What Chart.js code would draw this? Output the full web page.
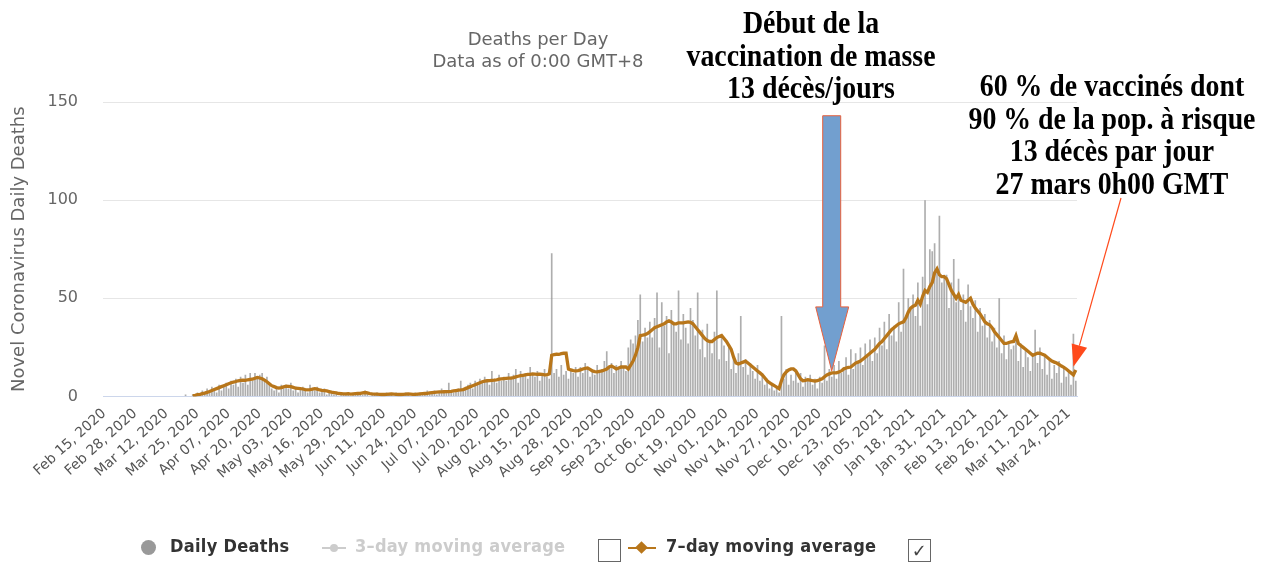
<!DOCTYPE html>
<html lang="fr">
<head>
  <meta charset="UTF-8">
  <title>Deaths per Day</title>
  <script src="https://cdn.jsdelivr.net/npm/chart.js"></script>
  <style>
    html, body { margin: 0; padding: 0; background: #fff; overflow: hidden; }
    .wrap { position: relative; width: 1275px; height: 563px; }
    .titre { position: absolute; left: 338px; width: 400px; text-align: center;
             font: 18px "DejaVu Sans", sans-serif; color: #666; line-height: 22px; top: 28px; }
    .note { position: absolute; width: 420px; text-align: center; color: #000;
            font: bold 32px "Liberation Serif", serif; line-height: 32.6px;
            transform: scaleX(0.87); white-space: nowrap; }
    .legende { position: absolute; top: 535px; left: 0; width: 1275px; height: 26px;
               font-family: "DejaVu Sans Condensed", "DejaVu Sans", sans-serif; font-stretch: condensed;
               font-weight: bold; font-size: 18px; letter-spacing: 0.3px; }
    .legende span, .legende i { position: absolute; }
    .case { position: absolute; width: 21px; height: 21px; border: 1px solid #666; top: 4px; }
  </style>
</head>
<body>
<div class="wrap">
  <canvas id="graficoMortes"></canvas>

  <div class="titre">Deaths per Day<br>Data as of 0:00 GMT+8</div>

  <div class="note" style="left:601px; top:6px;">Début de la<br>vaccination de masse<br>13 décès/jours</div>
  <div class="note" style="left:902px; top:69px;">60 % de vaccinés dont<br>90 % de la pop. à risque<br>13 décès par jour<br>27 mars 0h00 GMT</div>

  <div class="legende">
    <i style="left:141px; top:5px; width:15px; height:15px; border-radius:50%; background:#999;"></i>
    <span style="left:170px; top:0px; color:#333;">Daily Deaths</span>
    <i style="left:322px; top:12px; width:24px; height:2px; background:#ccc;"></i>
    <i style="left:330px; top:9px; width:8px; height:8px; border-radius:50%; background:#ccc;"></i>
    <span style="left:355px; top:0px; color:#ccc;">3–day moving average</span>
    <div class="case" style="left:598px;"></div>
    <i style="left:628px; top:12px; width:28px; height:2px; background:#b8761a;"></i>
    <i style="left:637px; top:8px; width:9px; height:9px; background:#b8761a; transform:rotate(45deg);"></i>
    <span style="left:666px; top:0px; color:#333;">7–day moving average</span>
    <div class="case" style="left:908px; color:#444; font:18px 'DejaVu Sans'; line-height:21px; text-align:center;">✓</div>
  </div>
</div>

<script>
  // étiquettes de l'axe x (une tous les 13 jours à partir du 15 fév. 2020)
  const tickLabels = ['Feb 15, 2020', 'Feb 28, 2020', 'Mar 12, 2020', 'Mar 25, 2020', 'Apr 07, 2020',
    'Apr 20, 2020', 'May 03, 2020', 'May 16, 2020', 'May 29, 2020', 'Jun 11, 2020', 'Jun 24, 2020',
    'Jul 07, 2020', 'Jul 20, 2020', 'Aug 02, 2020', 'Aug 15, 2020', 'Aug 28, 2020', 'Sep 10, 2020',
    'Sep 23, 2020', 'Oct 06, 2020', 'Oct 19, 2020', 'Nov 01, 2020', 'Nov 14, 2020', 'Nov 27, 2020',
    'Dec 10, 2020', 'Dec 23, 2020', 'Jan 05, 2021', 'Jan 18, 2021', 'Jan 31, 2021', 'Feb 13, 2021',
    'Feb 26, 2021', 'Mar 11, 2021', 'Mar 24, 2021'];

  // décès par jour, 15 fév. 2020 -> 27 mars 2021
  const dailyDeaths = [
    0,0,0,0,0,0,0,0,0,0,0,0,0,0,0,
    0,0,0,0,0,0,0,0,0,0,0,0,0,0,0,0,0,0,0,1,0,0,1,1,2,1,3,2,4,3,5,
    4,2,6,3,5,7,4,8,6,9,5,10,7,11,6,12,8,12,9,11,12,8,10,6,4,3,5,2,6,4,
    6,4,7,3,5,2,4,5,3,2,6,4,3,5,2,3,4,1,3,2,1,2,0,2,1,1,2,0,1,2,1,
    2,1,3,2,0,1,1,2,0,1,1,2,1,1,0,2,1,1,1,2,1,0,1,2,1,2,1,2,3,2,
    2,3,1,2,4,2,3,7,3,2,3,4,8,4,5,6,7,4,8,6,9,7,10,8,6,13,9,7,11,8,10,
    8,12,9,11,14,7,13,10,12,9,15,11,10,13,8,12,14,10,9,73,12,14,10,16,11,13,9,14,12,15,10,
    15,12,17,14,10,13,11,16,12,14,18,23,15,17,12,16,14,18,15,13,25,29,27,31,39,52,28,35,30,38,
    30,40,53,25,48,36,41,22,44,38,33,54,29,42,35,27,45,39,31,53,24,34,20,37,28,22,33,54,19,30,26,
    18,26,14,20,12,22,41,15,19,11,17,13,9,16,8,12,6,9,4,7,3,5,2,41,9,14,6,11,8,13,
    7,12,5,10,8,11,6,9,4,10,7,26,8,14,10,16,9,18,12,15,20,11,24,14,22,17,25,16,27,21,29,
    18,30,22,35,26,38,24,42,31,36,28,48,33,65,39,50,44,52,41,58,36,61,100,47,75,74,78,66,92,58,62,
    62,45,58,70,48,60,44,52,38,57,46,40,49,33,45,36,42,30,39,28,35,25,50,22,31,19,28,24,
    26,31,18,27,15,24,20,13,22,34,17,25,14,21,11,19,9,16,12,18,7,14,10,13,6,32,8
  ];

  // moyenne mobile sur 7 jours
  const avg7 = [
    null,null,null,null,null,null,null,null,null,null,null,null,null,null,null,
    null,null,null,null,null,null,null,null,null,null,null,null,null,null,null,null,null,null,null,null,null,null,
    0.4,0.6,0.9,1.1,1.4,1.7,2.1,2.5,3,
    3.5,4,4.5,5,5.5,6,6.5,7,7.3,7.6,8,8.2,8.3,8.2,8.5,8.7,8.8,9.3,9.7,9.4,9,8.3,7.5,6.5,5.5,5,4.5,4.3,4.5,4.9,
    5.2,5.1,5,4.6,4.2,4.1,4,3.8,3.5,3.4,3.5,3.7,4,3.7,3.3,3.1,3,2.8,2.5,2.2,2,1.8,1.5,1.4,1.3,1.3,1.4,1.2,1.3,1.4,1.5,
    1.6,1.8,2,1.8,1.5,1.3,1.2,1.2,1.1,1,1,1.1,1.2,1.3,1.2,1.1,1,1,1.1,1.2,1.3,1.2,1.1,1.1,1.2,1.3,1.4,1.5,1.6,1.8,
    2,2.1,2.2,2.3,2.3,2.4,2.5,2.5,2.6,2.8,3,3.2,3.3,3.5,4,4.5,5,5.5,6,6.5,7,7.5,7.8,8,8.1,8.2,8.3,8.5,8.8,9,9.1,
    9.2,9.3,9.3,9.6,10,10.3,10.6,10.8,11,11.2,11.3,11.5,11.4,11.3,11.3,11.2,11,11,11.5,21,21.3,21.5,21.4,21.8,22,22,14,13.5,13.2,13,13.2,
    13.5,14,14.3,14.5,13.8,13,12.7,12.5,12.8,13,13.5,14,15,15.5,14.8,14,14.5,15,15,15,14,16,18,21,25,31,31.2,31.5,32,33,
    34,35,35.5,36,36.5,37,38,38.5,38,37,37,37.5,37.5,37.5,37.8,38,37.8,37,35.5,34,32.5,31,29.5,28.5,28,28,29,30,30.5,31,29.5,
    28,26,24,20,17,16.5,17,17.5,18,17,16,15,14,13,12,11,9.5,8,7,6.2,5.5,4.8,4,8,11,12.5,13.5,14,14,13,
    11,9,8,8.2,8.5,8.3,8,7.8,8,8.5,9,10,11,11.5,12,12,12,12.5,13,14,14.5,14.8,15,16,17,17.5,18,19,20,21,22,
    23,24,25.5,27,28,29.5,31,32.5,34,35,36,37,37.5,38,40,43,45,46,46.5,49,47,51,54,53,56,58,63,65,62,61,61,
    60,57,54,52,50,52,49,48.5,48,49,50,47,45,43.5,42,40,38,37,36.5,35,33,31.5,30,28.5,27,27,27.5,27.8,
    28,31,27,26,25,24,23,22,21,21.5,22,22,21.5,21,20,19,18,17.5,17,16.3,15.5,14.8,14,13,12,11,13.5
  ];

  const yTicks = [0, 50, 100, 150];
  const vaccIdx = 304;   // début de la vaccination de masse
  const lastIdx = 405;

  const days = dailyDeaths.map((_, i) => new Date(Date.UTC(2020, 1, 15 + i)).toISOString().slice(0, 10));

  // flèches d'annotation
  const fleches = {
    id: 'fleches',
    afterDatasetsDraw(chart) {
      const { ctx, scales: { x, y } } = chart;
      ctx.save();
      // flèche bleue
      const bx = x.getPixelForValue(vaccIdx);
      const by = y.getPixelForValue(avg7[vaccIdx]) - 2;
      const top = y.getPixelForValue(143);
      const headTop = by - 64;
      ctx.beginPath();
      ctx.moveTo(bx - 9, top);
      ctx.lineTo(bx + 9, top);
      ctx.lineTo(bx + 9, headTop);
      ctx.lineTo(bx + 17, headTop);
      ctx.lineTo(bx, by);
      ctx.lineTo(bx - 16, headTop);
      ctx.lineTo(bx - 9, headTop);
      ctx.closePath();
      ctx.fillStyle = '#729fcf';
      ctx.fill();
      ctx.strokeStyle = '#e8603c';
      ctx.lineWidth = 1;
      ctx.stroke();

      // flèche rouge
      const rx = x.getPixelForValue(lastIdx);
      const ry = y.getPixelForValue(avg7[lastIdx]) - 8;
      const sx = 1121, sy = 198;
      const ang = Math.atan2(ry - sy, rx - sx);
      const len = 22, half = 8;
      const bxr = rx - len * Math.cos(ang), byr = ry - len * Math.sin(ang);
      ctx.strokeStyle = '#ff4a1c';
      ctx.lineWidth = 1.2;
      ctx.beginPath();
      ctx.moveTo(sx, sy);
      ctx.lineTo(bxr, byr);
      ctx.stroke();
      ctx.beginPath();
      ctx.moveTo(rx, ry);
      ctx.lineTo(bxr + half * Math.sin(ang), byr - half * Math.cos(ang));
      ctx.lineTo(bxr - half * Math.sin(ang), byr + half * Math.cos(ang));
      ctx.closePath();
      ctx.fillStyle = '#ff4a1c';
      ctx.fill();
      ctx.restore();
    }
  };

  new Chart(document.getElementById('graficoMortes'), {
    type: 'bar',
    data: {
      labels: days,
      datasets: [{
        type: 'line',
        label: '7–day moving average',
        data: avg7,
        borderColor: '#b8761a',
        borderWidth: 3.3,
        pointRadius: 0,
        tension: 0,
        spanGaps: false,
        order: 0
      }, {
        label: 'Daily Deaths',
        data: dailyDeaths,
        backgroundColor: 'rgba(140,140,140,0.7)',
        barPercentage: 0.7,
        categoryPercentage: 1,
        order: 1
      }]
    },
    plugins: [fleches],
    options: {
      responsive: true,
      maintainAspectRatio: false,
      animation: false,
      layout: { padding: { left: 4, top: 102, right: 198, bottom: 72 } },
      plugins: {
        legend: { display: false },
        tooltip: { enabled: false }
      },
      scales: {
        x: {
          grid: { display: false, drawTicks: false },
          border: { color: '#ccd6eb', width: 1 },
          ticks: {
            autoSkip: false,
            minRotation: 42,
            maxRotation: 42,
            padding: 9,
            color: '#555',
            font: { family: 'DejaVu Sans', size: 14 },
            callback: (v, i) => (i % 13 === 0 ? tickLabels[i / 13] : '')
          }
        },
        y: {
          min: 0,
          max: 150,
          afterBuildTicks: (s) => { s.ticks = yTicks.map(v => ({ value: v })); },
          afterFit: (s) => { s.width = 99; },
          grid: { color: (c) => (c.tick.value === 0 ? 'transparent' : '#e6e6e6'), drawTicks: false },
          border: { display: false },
          ticks: {
            padding: 25,
            color: '#666',
            font: { family: 'DejaVu Sans', size: 16 }
          },
          title: {
            display: true,
            text: 'Novel Coronavirus Daily Deaths',
            color: '#666',
            font: { family: 'DejaVu Sans', size: 18 },
            padding: { top: 5, bottom: 17 }
          }
        }
      }
    }
  });
</script>
</body>
</html>
